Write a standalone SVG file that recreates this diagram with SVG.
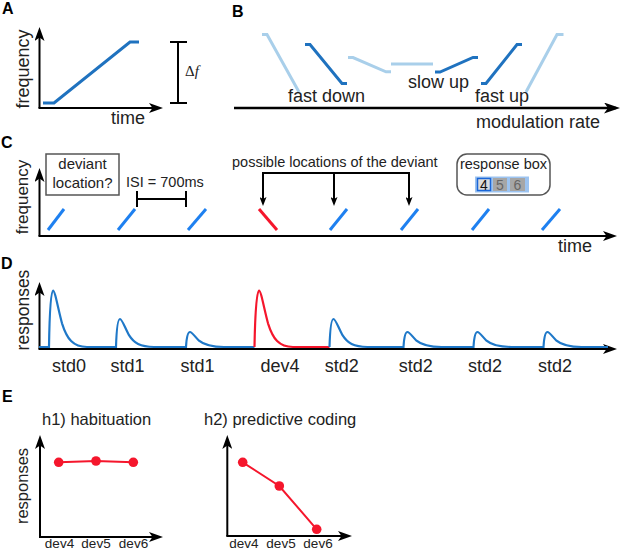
<svg xmlns="http://www.w3.org/2000/svg" width="623" height="552" viewBox="0 0 623 552">
<style>
text{font-family:"Liberation Sans",Arial,sans-serif;fill:#222}
.lab{font-weight:bold;font-size:16px;fill:#000}
.big{font-size:18px}
.mid{font-size:14.5px}
.ax{stroke:#000;stroke-width:2;fill:none}
.dk{stroke:#1f72bf;stroke-width:3;fill:none}
.lt{stroke:#a9cfea;stroke-width:3;fill:none}
.cb{stroke:#1e80f0;stroke-width:3;fill:none}
.cr{stroke:#f5162c;stroke-width:3;fill:none}
.resp{stroke:#1f78c8;stroke-width:2.2;fill:none}
.respr{stroke:#f5162c;stroke-width:2.2;fill:none}
.dot{fill:#f5162c}
.rl{stroke:#f5162c;stroke-width:2;fill:none}
</style>
<defs>
<marker id="ah" viewBox="0 0 14 10" refX="10" refY="5" markerWidth="14" markerHeight="10" markerUnits="userSpaceOnUse" orient="auto"><path d="M0,0 L14,5 L0,10 L3.5,5 z" fill="#000"/></marker>
<marker id="ahB" viewBox="0 0 16 11" refX="12" refY="5.5" markerWidth="16" markerHeight="11" markerUnits="userSpaceOnUse" orient="auto"><path d="M0,0 L16,5.5 L0,11 L4,5.5 z" fill="#000"/></marker>
<marker id="ahS" viewBox="0 0 9 7" refX="6" refY="3.5" markerWidth="9" markerHeight="7" markerUnits="userSpaceOnUse" orient="auto"><path d="M0,0 L9,3.5 L0,7 L2,3.5 z" fill="#000"/></marker>
</defs>

<g id="panelA">
<text class="lab" x="2" y="14">A</text>
<line class="ax" x1="39.5" y1="108" x2="39.5" y2="31" marker-end="url(#ah)"/>
<line class="ax" x1="38.5" y1="108" x2="159" y2="108" marker-end="url(#ah)"/>
<polyline class="dk" points="43,103 54,103 130,42 139,42"/>
<text class="big" transform="translate(29,69) rotate(-90)" text-anchor="middle">frequency</text>
<text class="big" x="111" y="124">time</text>
<path d="M178,42 V103 M170,42 H187 M170,103 H187" stroke="#000" stroke-width="2" fill="none"/>
<text x="185" y="76" style="font-family:'Liberation Serif',serif;font-size:15px;fill:#222">Δ<tspan font-style="italic">f</tspan></text>
</g>

<g id="panelB">
<text class="lab" x="232" y="17">B</text>
<polyline class="lt" points="262,34.5 267,34.5 299,92"/>
<polyline class="lt" points="348,57.5 353,57.5 386,71.8 391,71.8"/>
<polyline class="lt" points="391,64 433,64"/>
<polyline class="lt" points="526,92 557,34.5 563.5,34.5"/>
<polyline class="dk" points="305,44.5 310,44.5 342,83.5 347,83.5"/>
<polyline class="dk" points="435,72 440,72 473,57.5 478,57.5"/>
<polyline class="dk" points="481,83.5 486,83.5 517,44.5 522,44.5"/>
<line x1="234" y1="108" x2="616" y2="108" stroke="#000" stroke-width="2.6" marker-end="url(#ahB)"/>
<text class="big" x="288" y="102">fast down</text>
<text class="big" x="408" y="88">slow up</text>
<text class="big" x="475" y="102">fast up</text>
<text class="big" x="476" y="128">modulation rate</text>
</g>

<g id="panelC">
<text class="lab" x="1" y="148">C</text>
<line class="ax" x1="39.5" y1="236" x2="39.5" y2="172" marker-end="url(#ah)"/>
<line class="ax" x1="38.5" y1="236" x2="613" y2="236" stroke-width="2.4" marker-end="url(#ah)"/>
<text class="big" style="font-size:17px" transform="translate(28,197) rotate(-90)" text-anchor="middle">frequency</text>
<text class="big" x="558" y="252">time</text>
<g id="deviantBox">
<rect x="46" y="154" width="73" height="41" fill="#fff" stroke="#555" stroke-width="1.5"/>
<text x="82.5" y="169" text-anchor="middle" style="font-size:15px">deviant</text>
<text x="82.5" y="188" text-anchor="middle" style="font-size:15px">location?</text>
</g>
<g id="isi">
<text class="mid" x="126" y="187">ISI = 700ms</text>
<path d="M137,199 H186 M137,191 V207 M186,191 V207" stroke="#000" stroke-width="2" fill="none"/>
</g>
<g id="tones">
<line class="cb" x1="48" y1="230" x2="64" y2="209"/>
<line class="cb" x1="118" y1="230" x2="135" y2="209"/>
<line class="cb" x1="188" y1="230" x2="206" y2="209"/>
<line class="cr" x1="259" y1="209" x2="277" y2="230"/>
<line class="cb" x1="330" y1="230" x2="347" y2="209"/>
<line class="cb" x1="401" y1="230" x2="418" y2="209"/>
<line class="cb" x1="472" y1="230" x2="489" y2="209"/>
<line class="cb" x1="542" y1="230" x2="560" y2="209"/>
</g>
<text class="mid" x="232" y="167">possible locations of the deviant</text>
<g id="responseBox">
<rect x="457" y="154" width="93" height="41" rx="10" fill="#fff" stroke="#555" stroke-width="1.5"/>
<text class="mid" x="503.5" y="169" text-anchor="middle">response box</text>
<rect x="475" y="176.5" width="54" height="16" fill="#9cc3f0"/>
<rect x="477.5" y="178.5" width="13" height="12" fill="#dcdcdc" stroke="#1a66d8" stroke-width="1.5"/>
<rect x="493" y="178" width="14" height="13" fill="#a6a6a6"/>
<rect x="510" y="178" width="15" height="13" fill="#a6a6a6"/>
<text x="484" y="190" text-anchor="middle" style="font-size:14px;fill:#111">4</text>
<text x="500" y="190" text-anchor="middle" style="font-size:14px;fill:#666">5</text>
<text x="517.5" y="190" text-anchor="middle" style="font-size:14px;fill:#666">6</text>
</g>
</g>

<g id="connectors">
<path d="M263,173 H409" stroke="#000" stroke-width="2" fill="none"/>
<line x1="263" y1="172" x2="263" y2="203" stroke="#000" stroke-width="2" marker-end="url(#ahS)"/>
<line x1="334" y1="173" x2="334" y2="203" stroke="#000" stroke-width="2" marker-end="url(#ahS)"/>
<line x1="409" y1="172" x2="409" y2="203" stroke="#000" stroke-width="2" marker-end="url(#ahS)"/>
</g>

<g id="panelD">
<text class="lab" x="1" y="269">D</text>
<line class="ax" x1="39.5" y1="349" x2="39.5" y2="286" marker-end="url(#ah)"/>
<line class="ax" x1="38.5" y1="349" x2="613" y2="349" marker-end="url(#ah)"/>
<text class="big" style="font-size:17.5px" transform="translate(29,310) rotate(-90)" text-anchor="middle">responses</text>
<path class="resp" d="M39,347 L49,347 C49.6,307.45 51,290.5 53,290.5 C55,290.5 58,308.6 62,323.3 C67,339.1 73,347 87,347 L116,347 C116.6,327.4 118,319 120,319 C122,319 125,328 129,335.2 C134,343.1 140,347 154,347 L186,347 C186.6,336.5 188,332 190,332 C192,332 195,336.8 199,340.7 C204,344.9 210,347 224,347 L254.5,347"/>
<path class="respr" d="M254.5,347 C255.2,307.45 257,290.5 259,290.5 C261,290.5 264,308.6 268,323.3 C273,339.1 279,347 293,347 L329.5,347"/>
<path class="resp" d="M329.5,347 C330.1,327.4 331.5,319 333.5,319 C335.5,319 338.5,328 342.5,335.2 C347.5,343.1 353.5,347 367.5,347 L403.5,347 C404.1,336.5 405.5,332 407.5,332 C409.5,332 412.5,336.8 416.5,340.7 C421.5,344.9 427.5,347 441.5,347 L473.5,347 C474.1,336.5 475.5,332 477.5,332 C479.5,332 482.5,336.8 486.5,340.7 C491.5,344.9 497.5,347 511.5,347 L543.5,347 C544.1,336.5 545.5,332 547.5,332 C549.5,332 552.5,336.8 556.5,340.7 C561.5,344.9 567.5,347 581.5,347 L608,347"/>
<g class="big" text-anchor="middle">
<text x="69" y="372">std0</text>
<text x="127.5" y="372">std1</text>
<text x="197.5" y="372">std1</text>
<text x="280" y="372">dev4</text>
<text x="341.7" y="372">std2</text>
<text x="415.8" y="372">std2</text>
<text x="485" y="372">std2</text>
<text x="555" y="372">std2</text>
</g>
</g>

<g id="panelE">
<text class="lab" x="2" y="402">E</text>
<g id="h1">
<text x="42" y="425" style="font-size:16.5px">h1) habituation</text>
<line class="ax" x1="40" y1="537" x2="40" y2="439" stroke-width="2.4" marker-end="url(#ah)"/>
<line class="ax" x1="39" y1="537" x2="159" y2="537" stroke-width="2.4" marker-end="url(#ah)"/>
<text transform="translate(28,486) rotate(-90)" text-anchor="middle" style="font-size:16.5px">responses</text>
<polyline class="rl" points="58.7,462.3 96,461 133.3,462.3"/>
<circle class="dot" cx="58.7" cy="462.3" r="4.8"/>
<circle class="dot" cx="96" cy="461" r="4.8"/>
<circle class="dot" cx="133.3" cy="462.3" r="4.8"/>
<g text-anchor="middle" style="font-size:13.5px">
<text x="59.5" y="548" style="font-size:13.5px">dev4</text>
<text x="96" y="548" style="font-size:13.5px">dev5</text>
<text x="133.5" y="548" style="font-size:13.5px">dev6</text>
</g>
</g>
<g id="h2">
<text x="204" y="425" style="font-size:16.5px">h2) predictive coding</text>
<line class="ax" x1="227.3" y1="536" x2="227.3" y2="439" stroke-width="2.4" marker-end="url(#ah)"/>
<line class="ax" x1="226.3" y1="536" x2="348" y2="536" stroke-width="2.4" marker-end="url(#ah)"/>
<polyline class="rl" points="242.7,462.3 279.3,486 316.7,529.3"/>
<circle class="dot" cx="242.7" cy="462.3" r="4.8"/>
<circle class="dot" cx="279.3" cy="486" r="4.8"/>
<circle class="dot" cx="316.7" cy="529.3" r="4.8"/>
<g text-anchor="middle">
<text x="243.8" y="548" style="font-size:13.5px">dev4</text>
<text x="281" y="548" style="font-size:13.5px">dev5</text>
<text x="318" y="548" style="font-size:13.5px">dev6</text>
</g>
</g>
</g>
</svg>
